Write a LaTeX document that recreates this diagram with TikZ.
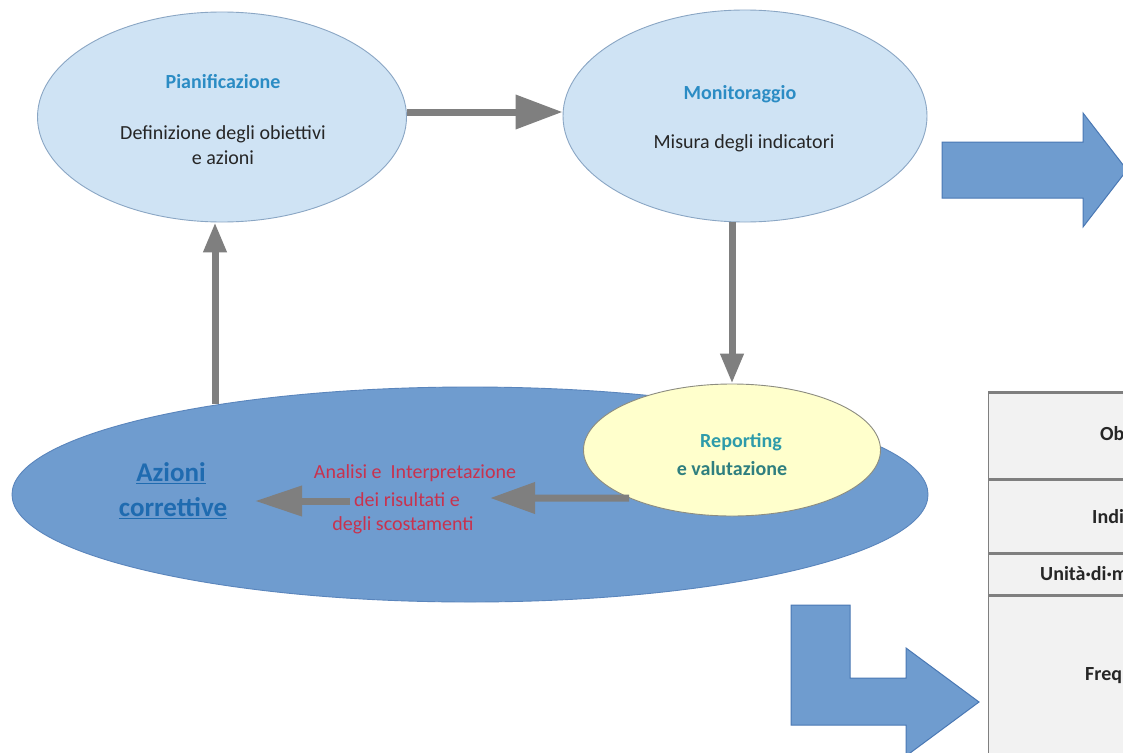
\documentclass[tikz,border=0pt]{standalone}
\usepackage{fontspec}
\setmainfont{Carlito}
\usetikzlibrary{shapes.geometric,arrows.meta}
\definecolor{lightfill}{HTML}{CFE3F4}
\definecolor{lightdraw}{HTML}{8AA6C4}
\definecolor{bigfill}{HTML}{6F9CCF}
\definecolor{bigdraw}{HTML}{5A85BC}
\definecolor{yelfill}{HTML}{FFFFCC}
\definecolor{yeldraw}{HTML}{8C8C80}
\definecolor{arrgray}{HTML}{7F7F7F}
\definecolor{blockfill}{HTML}{6F9CCF}
\definecolor{blockdraw}{HTML}{4A78B4}
\definecolor{titleblue}{HTML}{2B8CC4}
\definecolor{repteal}{HTML}{2E9BAA}
\definecolor{valteal}{HTML}{2F7F7F}
\definecolor{anared}{HTML}{C8324E}
\definecolor{azblue}{HTML}{1F6BB0}
\definecolor{tabfill}{HTML}{F2F2F2}
\definecolor{tabline}{HTML}{7F7F7F}
\definecolor{tabtext}{HTML}{262626}
\tikzset{
  lightell/.style={ellipse, fill=lightfill, draw=lightdraw, line width=0.9pt, inner sep=0pt},
  bigell/.style={ellipse, fill=bigfill, draw=bigdraw, line width=0.9pt, inner sep=0pt},
  yelell/.style={ellipse, fill=yelfill, draw=yeldraw, line width=0.9pt, inner sep=0pt},
  garrow/.style={draw=arrgray, line width=7pt},
  blockarrow/.style={fill=blockfill, draw=blockdraw, line width=1pt, line join=miter},
  titletxt/.style={inner sep=0pt, font=\fontsize{20}{25}\selectfont\bfseries, text=titleblue},
  bodytxt/.style={inner sep=0pt, align=center, font=\fontsize{20}{25}\selectfont, text=black!85},
  redtxt/.style={inner sep=0pt, font=\fontsize{20}{25}\selectfont, text=anared},
  aztxt/.style={inner sep=0pt, font=\fontsize{27}{30}\selectfont\bfseries, text=azblue},
  tabtxt/.style={inner sep=0pt, anchor=west, font=\fontsize{20}{24}\selectfont\bfseries, text=tabtext},
}
\begin{document}
\begin{tikzpicture}[x=1pt, y=-1pt]
\clip (0,0) rectangle (1123,752);
\fill[white] (0,0) rectangle (1123,752);

% ellipses
\node[lightell, minimum width=369pt, minimum height=210pt] (pian) at (222,117) {};
\node[lightell, minimum width=364pt, minimum height=212pt] (mon) at (745,116) {};
\node[bigell, minimum width=916pt, minimum height=215pt] (big) at (470,494.5) {};
\node[yelell, minimum width=297pt, minimum height=132pt] (rep) at (732,450) {};

% coordinates
\coordinate (upfoot) at (215,404);
\coordinate (anatip) at (490,498);
\coordinate (azstart) at (350,501);
\coordinate (aztip) at (255,501);

% gray arrows
\draw[garrow, -{Triangle[length=47pt,width=33pt]}] (pian.east |- 0,112) -- (mon.west |- 0,112);
\draw[garrow, -{Triangle[length=30pt,width=22pt]}] (rep.north |- mon.south) -- (rep.north);
\draw[garrow, -{Triangle[length=30pt,width=22pt]}] (upfoot) -- (upfoot |- pian.south);
\draw[garrow, -{Triangle[length=45pt,width=30pt]}] (rep.205) -- (anatip);
\draw[garrow, -{Triangle[length=47pt,width=29pt]}] (azstart) -- (aztip);

% texts in ellipses
\node[titletxt] (tpian) at (223,82) {Pianificazione};
\node[bodytxt] (dpian) at (223,145) {Definizione degli obiettivi\\e azioni};
\node[titletxt] (tmon) at (740,94) {Monitoraggio};
\node[bodytxt] (dmon) at (744,143) {Misura degli indicatori};
\node[titletxt, text=repteal] (trep) at (741,442) {Reporting};
\node[titletxt, text=valteal] (vrep) at (732,469) {e valutazione};
\node[redtxt] (ana1) at (415,473) {Analisi e\ \ Interpretazione};
\node[redtxt] (ana2) at (407,500) {dei risultati e};
\node[redtxt] (ana3) at (403,525) {degli scostamenti};
\node[aztxt] (az1) at (171,473) {\underline{Azioni}};
\node[aztxt] (az2) at (173,508) {\underline{correttive}};

% block arrows
\draw[blockarrow] (942,142) -- (1083,142) -- (1083,113) -- (1127,170) -- (1083,227) -- (1083,198) -- (942,198) -- cycle;
\draw[blockarrow] (791,605) -- (850,605) -- (850,678) -- (906,678) -- (906,648) -- (979,702) -- (906,756) -- (906,725) -- (791,725) -- cycle;

% table
\fill[tabfill] (988,392) rectangle (1130,760);
\draw[tabline, line width=1pt] (988,392) -- (988,760);
\foreach \yy in {392,479,553,595} \draw[tabline, line width=3pt] (988,\yy) -- (1130,\yy);
\node[tabtxt] (c1) at (1100,434) {Ob};
\node[tabtxt] (c2) at (1092,517) {Indi};
\node[tabtxt] (c3) at (1040,574) {Unità·di·m};
\node[tabtxt] (c4) at (1085,676) {Freq};
\end{tikzpicture}
\end{document}
